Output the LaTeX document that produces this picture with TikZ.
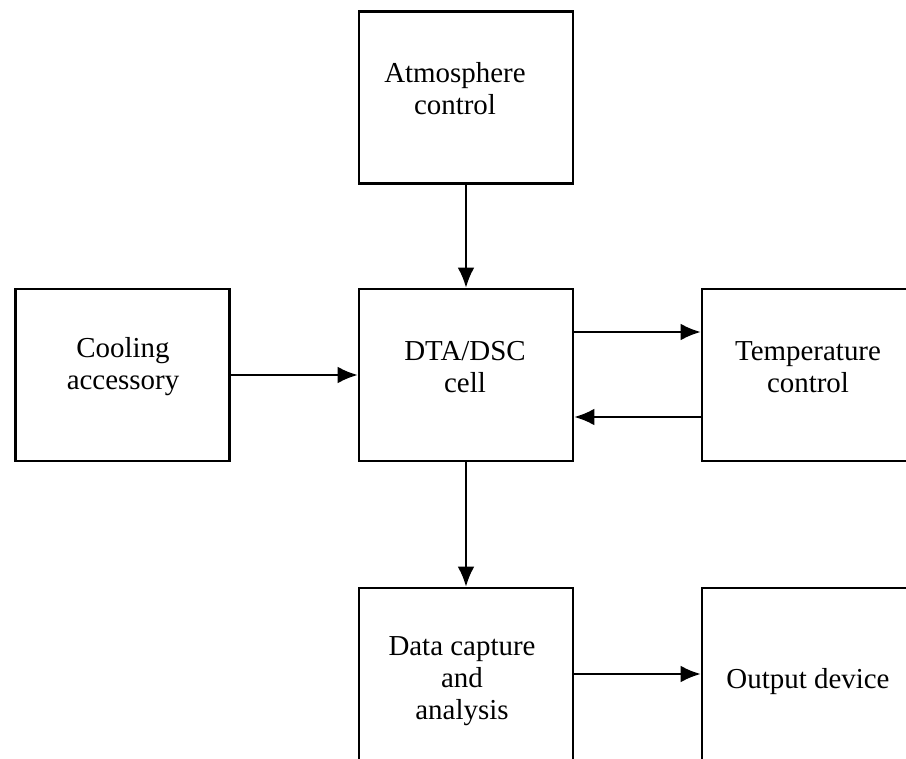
\documentclass[tikz,border=0pt]{standalone}
\usepackage{fontspec}
\setmainfont{Liberation Serif}
\usetikzlibrary{arrows.meta,calc}
\tikzset{
  blockbox/.style={draw, line width=1.9pt, minimum width=160.5pt, minimum height=129pt, inner sep=0pt},
  blocktext/.style={align=center, font=\fontsize{21.7}{24}\selectfont, inner sep=0pt},
  flow/.style={line width=1.7pt, -{Latex[length=15pt,width=12.5pt]}}
}
\begin{document}
\begin{tikzpicture}[x=0.75pt,y=0.75pt,yscale=-1,xscale=1]
\useasboundingbox (0,0) rectangle (906,759);
\clip (0,0) rectangle (906,759);
%Shape: Rectangle (the six blocks)
\node[blockbox] (atmos) at (466,97.5) {};
\node[blockbox] (cooling) at (122.5,375) {};
\node[blockbox] (cell) at (466,375) {};
\node[blockbox] (temp) at (809,375) {};
\node[blockbox] (capture) at (466,674) {};
\node[blockbox] (output) at (809,674) {};
%Text in the blocks
\node[blocktext] (atmostxt) at (455,89) {Atmosphere\\control};
\node[blocktext] (coolingtxt) at (123,367) {Cooling\\accessory};
\node[blocktext] (celltxt) at (465,367) {DTA/DSC\\cell};
\node[blocktext] (temptxt) at (808,367) {Temperature\\control};
\node[blocktext] (capturetxt) at (462,681) {Data capture\\and\\analysis};
\node[blocktext] (outputtxt) at (808,682) {Output device};
%Arrows
\draw[flow] (atmos) -- (cell);
\draw[flow] (cooling) -- (cell);
\draw[flow] ($(cell.east)+(0,-43)$) -- ($(temp.west)+(0,-43)$);
\draw[flow] ($(temp.west)+(0,42)$) -- ($(cell.east)+(0,42)$);
\draw[flow] (cell) -- (capture);
\draw[flow] (capture) -- (output);
\end{tikzpicture}
\end{document}
